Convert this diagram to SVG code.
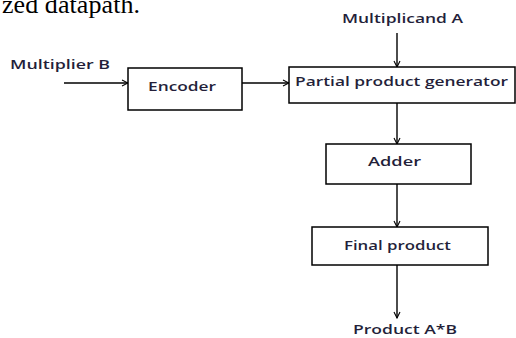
<svg xmlns="http://www.w3.org/2000/svg" width="516" height="338" viewBox="0 0 516 338">
<style>
.box{fill:#fff;stroke:#000;stroke-width:1.5}
.lbl{font-family:"Open Sans","DejaVu Sans",sans-serif;font-size:12.5px;font-weight:600;fill:#241f3a}
.ln{stroke:#000;stroke-width:1.4;fill:none}
</style>
<defs>
<marker id="ah" markerWidth="8" markerHeight="8" refX="7" refY="4" orient="auto" markerUnits="userSpaceOnUse">
<path d="M1,1 L7,4 L1,7" fill="none" stroke="#000" stroke-width="1.1"/>
</marker>
</defs>
<rect width="516" height="338" fill="#fff"/>
<text x="2" y="13" font-family="Liberation Serif,serif" font-size="26" fill="#000" textLength="138">zed datapath.</text>
<g id="connectors">
<line class="ln" x1="64" y1="83" x2="128" y2="83" marker-end="url(#ah)"/>
<line class="ln" x1="242" y1="83" x2="289" y2="83" marker-end="url(#ah)"/>
<line class="ln" x1="397" y1="33" x2="397" y2="67" marker-end="url(#ah)"/>
<line class="ln" x1="397" y1="103" x2="397" y2="144" marker-end="url(#ah)"/>
<line class="ln" x1="397" y1="184" x2="397" y2="227" marker-end="url(#ah)"/>
<line class="ln" x1="397" y1="265" x2="397" y2="318" marker-end="url(#ah)"/>
</g>
<g id="multiplierB"><text class="lbl" x="10" y="69" textLength="100" lengthAdjust="spacingAndGlyphs">Multiplier B</text></g>
<g id="multiplicandA"><text class="lbl" x="342" y="23" textLength="121" lengthAdjust="spacingAndGlyphs">Multiplicand A</text></g>
<g id="encoder"><rect class="box" x="128" y="68" width="114" height="42"/><text class="lbl" x="148" y="91" textLength="68" lengthAdjust="spacingAndGlyphs">Encoder</text></g>
<g id="ppg"><rect class="box" x="289" y="67" width="226" height="36"/><text class="lbl" x="295" y="86" textLength="213" lengthAdjust="spacingAndGlyphs">Partial product generator</text></g>
<g id="adder"><rect class="box" x="326" y="144" width="145" height="40"/><text class="lbl" x="368" y="166" textLength="53" lengthAdjust="spacingAndGlyphs">Adder</text></g>
<g id="final"><rect class="box" x="312" y="227" width="176" height="38"/><text class="lbl" x="344" y="250" textLength="107" lengthAdjust="spacingAndGlyphs">Final product</text></g>
<g id="productAB"><text class="lbl" x="353" y="334" textLength="104" lengthAdjust="spacingAndGlyphs">Product A*B</text></g>
</svg>
